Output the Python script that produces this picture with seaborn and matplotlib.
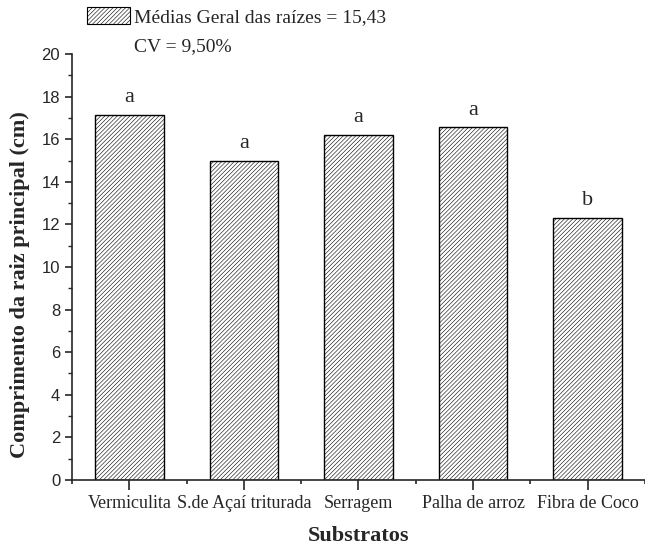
import numpy as np
import pandas as pd
import seaborn as sns
import matplotlib
matplotlib.use("Agg")
import matplotlib.pyplot as plt
from matplotlib.patches import Patch
from matplotlib.ticker import MultipleLocator, FixedLocator

substratos = ["Vermiculita", "S.de Açaí triturada", "Serragem", "Palha de arroz", "Fibra de Coco"]
comprimento = [17.15, 15.0, 16.2, 16.55, 12.3]
letras = ["a", "a", "a", "a", "b"]
legenda = ["Médias Geral das raízes = 15,43", "CV = 9,50%"]

sns.set_style("ticks")
plt.rcParams['hatch.linewidth'] = 0.4
serif = ["Liberation Serif", "DejaVu Serif"]
sans = ["Liberation Sans", "DejaVu Sans"]

df = pd.DataFrame({"Substratos": substratos, "Comprimento": comprimento})

fig = plt.figure(figsize=(6.45, 5.45), dpi=100)
ax = fig.add_axes([0.1116, 0.1193, 0.8884, 0.7816])

sns.barplot(data=df, x="Substratos", y="Comprimento", color="white",
            edgecolor="black", linewidth=1, hatch="////////", width=0.6, ax=ax)

for i, (v, l) in enumerate(zip(comprimento, letras)):
    ax.text(i, v + 0.6, l, ha="center", va="baseline", family=serif, fontsize=16)

ax.set_xlim(-0.5, 4.5)
ax.set_ylim(0, 20)
ax.yaxis.set_major_locator(MultipleLocator(2))
ax.yaxis.set_minor_locator(MultipleLocator(1))
ax.xaxis.set_minor_locator(FixedLocator(np.arange(-0.5, 5, 1)))
for s in ["top", "right"]:
    ax.spines[s].set_visible(False)
for s in ["left", "bottom"]:
    ax.spines[s].set_linewidth(1.2)
ax.tick_params(axis="y", which="major", length=5, width=1.2, direction="out")
ax.tick_params(axis="y", which="minor", length=3, width=1, direction="out")
ax.tick_params(axis="x", which="major", length=7, width=1.2, direction="out", pad=4)
ax.tick_params(axis="x", which="minor", length=3, width=1.2, direction="out")

for t in ax.get_yticklabels():
    t.set_family(sans)
    t.set_fontsize(12)
for t in ax.get_xticklabels():
    t.set_family(serif)
    t.set_fontsize(13)

ax.set_xlabel("Substratos", family=serif, fontsize=16, fontweight="bold")
ax.xaxis.set_label_coords(0.5, -0.108)
ax.set_ylabel("Comprimento da raiz principal (cm)", family=serif, fontsize=16,
              fontweight="bold")
ax.yaxis.set_label_coords(-0.073, 0.458)

handles = [Patch(facecolor="white", edgecolor="black", hatch="////////", linewidth=0.8),
           Patch(facecolor="none", edgecolor="none")]
leg = ax.legend(handles, legenda, loc="upper left", bbox_to_anchor=(0.026, 1.11),
                frameon=False, prop={"family": serif, "size": 14},
                handlelength=2.2, handleheight=0.95, handletextpad=0.2,
                labelspacing=0.5, borderaxespad=0, borderpad=0)

fig.savefig("out.png", dpi=100)
